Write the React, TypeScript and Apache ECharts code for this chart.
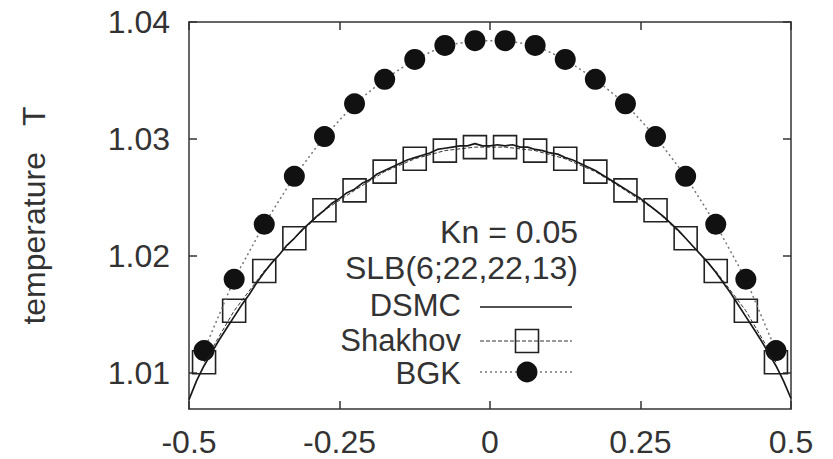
import React, { useEffect, useRef } from "react";
import * as echarts from "echarts";

const xTicks = [-0.5, -0.25, 0, 0.25, 0.5];
const yTicks = [1.01, 1.02, 1.03, 1.04];

const markerX = [
  -0.475, -0.425, -0.375, -0.325, -0.275, -0.225, -0.175, -0.125, -0.075, -0.025,
  0.025, 0.075, 0.125, 0.175, 0.225, 0.275, 0.325, 0.375, 0.425, 0.475,
];
const shakhovT = [
  1.0109, 1.0153, 1.0187, 1.0215, 1.0239, 1.0256, 1.0272, 1.0283, 1.029, 1.0293,
  1.0293, 1.029, 1.0283, 1.0272, 1.0256, 1.0239, 1.0215, 1.0187, 1.0153, 1.0109,
];
const bgkT = [
  1.0119, 1.018, 1.0227, 1.0268, 1.0302, 1.033, 1.0351, 1.0368, 1.038, 1.0384,
  1.0384, 1.038, 1.0368, 1.0351, 1.033, 1.0302, 1.0268, 1.0227, 1.018, 1.0119,
];

const dsmcX = [
  -0.5, -0.4875, -0.475, -0.4625, -0.45, -0.4375, -0.425, -0.4125, -0.4, -0.3875,
  -0.375, -0.3625, -0.35, -0.3375, -0.325, -0.3125, -0.3, -0.2875, -0.275, -0.2625,
  -0.25, -0.2375, -0.225, -0.2125, -0.2, -0.1875, -0.175, -0.1625, -0.15, -0.1375,
  -0.125, -0.1125, -0.1, -0.0875, -0.075, -0.0625, -0.05, -0.0375, -0.025, -0.0125,
  0, 0.0125, 0.025, 0.0375, 0.05, 0.0625, 0.075, 0.0875, 0.1, 0.1125,
  0.125, 0.1375, 0.15, 0.1625, 0.175, 0.1875, 0.2, 0.2125, 0.225, 0.2375,
  0.25, 0.2625, 0.275, 0.2875, 0.3, 0.3125, 0.325, 0.3375, 0.35, 0.3625,
  0.375, 0.3875, 0.4, 0.4125, 0.425, 0.4375, 0.45, 0.4625, 0.475, 0.4875, 0.5,
];
const dsmcT = [
  1.0077, 1.0093, 1.0106, 1.0117, 1.0128, 1.0138, 1.0148, 1.0158, 1.0167, 1.0177,
  1.0186, 1.0194, 1.0201, 1.0209, 1.0215, 1.0222, 1.0228, 1.0234, 1.0239, 1.0245,
  1.0249, 1.0254, 1.0257, 1.0262, 1.0265, 1.027, 1.0273, 1.0276, 1.0279, 1.0282,
  1.0284, 1.0286, 1.0288, 1.0291, 1.0292, 1.0293, 1.0294, 1.0294, 1.0296, 1.0294,
  1.0294, 1.0295, 1.0294, 1.0295, 1.0293, 1.0293, 1.0291, 1.029, 1.0288, 1.0287,
  1.0284, 1.0282, 1.0279, 1.0276, 1.0273, 1.0269, 1.0265, 1.0261, 1.0257, 1.0253,
  1.0249, 1.0244, 1.0239, 1.0234, 1.0228, 1.0222, 1.0215, 1.0208, 1.0201, 1.0194,
  1.0186, 1.0177, 1.0168, 1.0158, 1.0148, 1.0138, 1.0128, 1.0117, 1.0106, 1.0093, 1.0078,
];

const legendTitle = ["Kn = 0.05", "SLB(6;22,22,13)"];
const seriesNames = ["DSMC", "Shakhov", "BGK"];

const FONT = "'Liberation Sans', Arial, Helvetica, sans-serif";
const FS = 32;
const INK = "#333";
const AXIS = "#333";

export default function App() {
  const ref = useRef<HTMLDivElement>(null);
  useEffect(() => {
    document.body.style.margin = "0";
    const chart = echarts.init(ref.current!, null, { renderer: "svg" });
    const xMin = -0.5;
    const xMax = 0.5;
    const yMin = 1.0069;
    const yMax = 1.04;

    const axisLineStyle = { color: AXIS, width: 1.5 };
    const baseX = {
      type: "value" as const,
      min: xMin,
      max: xMax,
      interval: 0.25,
      splitLine: { show: false },
      axisLine: { show: true, onZero: false, lineStyle: axisLineStyle },
      axisTick: { show: true, inside: true, length: 8, lineStyle: axisLineStyle },
    };
    const baseY = {
      type: "value" as const,
      min: yMin,
      max: yMax,
      splitLine: { show: false },
      axisLine: { show: true, onZero: false, lineStyle: axisLineStyle },
      axisTick: {
        show: true,
        inside: true,
        length: 8,
        lineStyle: axisLineStyle,
        customValues: yTicks,
      },
    };

    const legendX = 461;
    const sampleX1 = 480;
    const sampleX2 = 572;
    const sampleMid = 527;
    const rowY = [305, 340, 373];

    const textStyle = (text: string, x: number, y: number, size: number) => ({
      type: "text",
      x,
      y,
      style: {
        text,
        fill: INK,
        font: `${size}px ${FONT}`,
        lineHeight: 28,
        align: "right",
        verticalAlign: "middle",
      },
    });

    const option: any = {
      animation: false,
      backgroundColor: "#fff",
      grid: { left: 189, right: 42, top: 22, bottom: 50, containLabel: false },
      xAxis: [
        {
          ...baseX,
          position: "bottom",
          axisLabel: {
            show: true,
            fontSize: FS,
            fontFamily: FONT,
            color: INK,
            margin: 17,
            customValues: xTicks,
          },
        },
        {
          ...baseX,
          position: "top",
          axisLabel: { show: false },
        },
      ],
      yAxis: [
        {
          ...baseY,
          position: "left",
          name: "temperature   T",
          nameLocation: "middle",
          nameRotate: 90,
          nameGap: 139,
          nameTextStyle: { fontSize: FS, fontFamily: FONT, color: INK },
          axisLabel: {
            show: true,
            fontSize: FS,
            fontFamily: FONT,
            color: INK,
            margin: 19,
            customValues: yTicks,
            formatter: (v: number) => v.toFixed(2),
          },
        },
        {
          ...baseY,
          position: "right",
          axisLabel: { show: false },
        },
      ],
      series: [
        {
          name: "Shakhov",
          type: "line",
          data: markerX.map((x, i) => [x, shakhovT[i]]),
          symbol: "rect",
          symbolSize: 23,
          showAllSymbol: true,
          lineStyle: { color: "#333", width: 1, type: [4, 2] },
          itemStyle: { color: "rgba(0,0,0,0)", borderColor: "#222", borderWidth: 1.6 },
          z: 2,
        },
        {
          name: "BGK",
          type: "line",
          data: markerX.map((x, i) => [x, bgkT[i]]),
          symbol: "circle",
          symbolSize: 21,
          showAllSymbol: true,
          lineStyle: { color: "#777", width: 1.5, type: [2, 3] },
          itemStyle: { color: "#111", borderColor: "#111", borderWidth: 0 },
          z: 3,
        },
        {
          name: "DSMC",
          type: "line",
          data: dsmcX.map((x, i) => [x, dsmcT[i]]),
          symbol: "none",
          lineStyle: { color: "#1a1a1a", width: 1.7 },
          z: 4,
        },
      ],
      graphic: [
        textStyle(legendTitle[0], 578, 232, FS),
        textStyle(legendTitle[1], 578, 268, FS),
        textStyle(seriesNames[0], legendX, rowY[0], 31),
        textStyle(seriesNames[1], legendX, rowY[1], 31),
        textStyle(seriesNames[2], legendX, rowY[2], 31),
        {
          type: "line",
          shape: { x1: sampleX1, y1: rowY[0] + 2, x2: sampleX2, y2: rowY[0] + 2 },
          style: { stroke: "#1a1a1a", lineWidth: 1.7 },
        },
        {
          type: "line",
          shape: { x1: sampleX1, y1: rowY[1] + 1, x2: sampleX2, y2: rowY[1] + 1 },
          style: { stroke: "#333", lineWidth: 1, lineDash: [4, 2] },
        },
        {
          type: "rect",
          shape: { x: sampleMid - 11.5, y: rowY[1] + 1 - 11.5, width: 23, height: 23 },
          style: { stroke: "#222", lineWidth: 1.6, fill: "none" },
        },
        {
          type: "line",
          shape: { x1: sampleX1, y1: rowY[2] - 1, x2: sampleX2, y2: rowY[2] - 1 },
          style: { stroke: "#777", lineWidth: 1.5, lineDash: [2, 3] },
        },
        {
          type: "circle",
          shape: { cx: sampleMid, cy: rowY[2] - 1, r: 10.5 },
          style: { fill: "#111" },
        },
      ],
    };
    chart.setOption(option);
    return () => chart.dispose();
  }, []);
  return <div ref={ref} style={{ width: 833, height: 459 }} />;
}
